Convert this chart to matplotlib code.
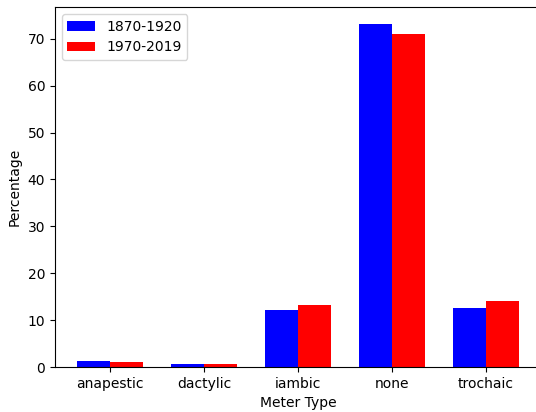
import numpy as np
import matplotlib.pyplot as plt

meters = ["anapestic", "dactylic", "iambic", "none", "trochaic"]
early = [1.28, 0.64, 12.1, 73.1, 12.7]
late = [1.06, 0.6, 13.3, 70.9, 14.0]

x = np.arange(len(meters))
width = 0.35

fig, ax = plt.subplots(figsize=(5.36, 4.12), dpi=100)
ax.bar(x - width / 2, early, width, color="blue", label="1870-1920")
ax.bar(x + width / 2, late, width, color="red", label="1970-2019")

ax.set_xticks(x)
ax.set_xticklabels(meters)
ax.set_xlabel("Meter Type")
ax.set_ylabel("Percentage")
ax.legend(loc="upper left")

# plot area runs slightly past the right edge, as in the original
fig.subplots_adjust(left=0.1026, right=1.009, bottom=0.109, top=0.983)
fig.savefig("out.png")
